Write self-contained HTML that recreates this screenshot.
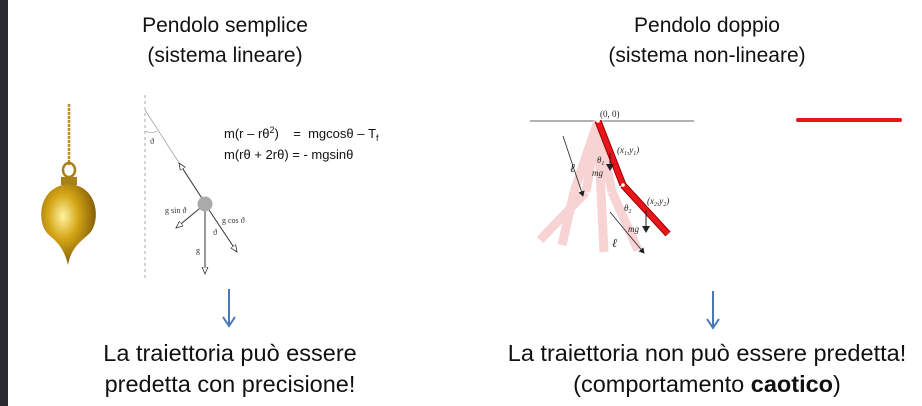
<!DOCTYPE html>
<html><head><meta charset="utf-8"><style>
body{margin:0;width:922px;height:406px;background:#fff;position:relative;overflow:hidden;font-family:"Liberation Sans",sans-serif}
.t{position:absolute;font-size:21px;color:#111;text-align:center;line-height:30px}
.b{font-size:23.5px;line-height:31px}
</style></head><body>
<div style="position:absolute;left:0;top:0;width:8px;height:406px;background:#2a2a30"></div>
<div class="t" style="left:75px;width:300px;top:11px">Pendolo semplice<br>(sistema lineare)</div>
<div class="t" style="left:557px;width:300px;top:11px">Pendolo doppio<br>(sistema non-lineare)</div>
<div class="t b" style="left:30px;width:400px;top:338px">La traiettoria può essere<br>predetta con precisione!</div>
<div class="t b" style="left:457px;width:500px;top:338px">La traiettoria non può essere predetta!<br>(comportamento <b>caotico</b>)</div>
<div style="position:absolute;left:796px;top:118px;width:106px;height:4px;background:#e8151b;border-radius:2px"></div>
<svg width="922" height="406" style="position:absolute;left:0;top:0" font-family="Liberation Serif,serif">
<defs>
<radialGradient id="gold" cx="0.4" cy="0.4" r="0.7"><stop offset="0" stop-color="#fff3a0"/><stop offset="0.4" stop-color="#d4a516"/><stop offset="1" stop-color="#6b4a05"/></radialGradient>
<marker id="oa" markerWidth="8" markerHeight="8" refX="7" refY="4" orient="auto"><path d="M0,1 L7,4 L0,7 Z" fill="#fff" stroke="#333" stroke-width="0.8"/></marker>
<marker id="ba" markerWidth="8" markerHeight="8" refX="6" refY="4" orient="auto"><path d="M0,0 L7,4 L0,8 Z" fill="#222"/></marker>
</defs>
<g>
<line x1="69" y1="104" x2="69" y2="165" stroke="#b8901a" stroke-width="2.5" stroke-dasharray="3,1"/>
<ellipse cx="69" cy="170" rx="6" ry="7" fill="none" stroke="#a8801a" stroke-width="2.5"/>
<rect x="61" y="177" width="16" height="8" fill="#a8801a"/>
<path d="M69,184 C38,186 36,222 48,234 C57,242 64,248 68,265 C71,248 80,242 89,234 C101,222 99,186 69,184 Z" fill="url(#gold)"/>
</g>
<g font-size="8" fill="#333">
<line x1="145" y1="95" x2="145" y2="280" stroke="#aaa" stroke-dasharray="3,3"/>
<line x1="145" y1="110" x2="205" y2="203" stroke="#999" stroke-width="0.7"/>
<line x1="205" y1="203" x2="179" y2="163" stroke="#333" marker-end="url(#oa)"/>
<line x1="205" y1="204" x2="176" y2="228" stroke="#333" marker-end="url(#oa)"/>
<line x1="205" y1="204" x2="237" y2="252" stroke="#333" marker-end="url(#oa)"/>
<line x1="205" y1="204" x2="205" y2="274" stroke="#333" marker-end="url(#oa)"/>
<circle cx="205" cy="204" r="7.5" fill="#aaa"/>
<path d="M145,131 Q152,134 157,131" fill="none" stroke="#888" stroke-width="0.6"/>
<text x="150" y="144">ϑ</text><text x="165" y="213">g sin ϑ</text><text x="222" y="223">g cos ϑ</text>
<text x="213" y="235">ϑ</text><text x="196" y="253">g</text>
</g>
<g font-family="Liberation Sans,sans-serif" font-size="13" fill="#111">
<text x="224" y="138">m(r – rθ<tspan dy="-5" font-size="9">2</tspan><tspan dy="5">)&#160;&#160;&#160; =&#160; mgcosθ – T</tspan><tspan dy="3" font-size="9">f</tspan></text>
<text x="224" y="159">m(rθ + 2rθ) = - mgsinθ</text>
</g>
<g font-size="9" fill="#222">
<line x1="530" y1="121" x2="694" y2="121" stroke="#333" stroke-width="0.8"/>
<g stroke="#f5c5c5" stroke-width="9" opacity="0.75">
<line x1="598" y1="121" x2="586" y2="192"/><line x1="586" y1="192" x2="540" y2="240"/>
<line x1="598" y1="121" x2="601" y2="192"/><line x1="601" y1="192" x2="604" y2="252"/>
<line x1="598" y1="121" x2="612" y2="192"/><line x1="612" y1="192" x2="638" y2="250"/>
<line x1="598" y1="121" x2="574" y2="192"/><line x1="574" y1="192" x2="562" y2="245"/>
</g>
<line x1="598" y1="121" x2="623" y2="185" stroke="#900" stroke-width="7"/>
<line x1="598" y1="121" x2="623" y2="185" stroke="#e8151b" stroke-width="5"/>
<line x1="623" y1="185" x2="668" y2="234" stroke="#900" stroke-width="7"/>
<line x1="623" y1="185" x2="668" y2="234" stroke="#e8151b" stroke-width="5"/>
<circle cx="598" cy="121" r="1.8" fill="#fff"/><circle cx="623" cy="185" r="1.8" fill="#fff"/>
<line x1="563" y1="136" x2="583" y2="196" stroke="#222" stroke-width="0.8" marker-end="url(#ba)"/>
<line x1="610" y1="212" x2="644" y2="253" stroke="#222" stroke-width="0.8" marker-end="url(#ba)"/>
<line x1="610" y1="153" x2="610" y2="170" stroke="#222" marker-end="url(#ba)"/>
<line x1="646" y1="210" x2="646" y2="232" stroke="#222" marker-end="url(#ba)"/>
<text x="600" y="117">(0, 0)</text><text x="617" y="153" font-style="italic">(x<tspan font-size="6" dy="2">1</tspan><tspan dy="-2">,y</tspan><tspan font-size="6" dy="2">1</tspan><tspan dy="-2">)</tspan></text>
<text x="647" y="204" font-style="italic">(x<tspan font-size="6" dy="2">2</tspan><tspan dy="-2">,y</tspan><tspan font-size="6" dy="2">2</tspan><tspan dy="-2">)</tspan></text>
<text x="597" y="163" font-style="italic">θ<tspan font-size="6" dy="2">1</tspan></text>
<text x="592" y="176" font-style="italic">mg</text>
<text x="624" y="211" font-style="italic">θ<tspan font-size="6" dy="2">2</tspan></text>
<text x="628" y="232" font-style="italic">mg</text>
<text x="570" y="172" font-size="12" font-style="italic">ℓ</text><text x="612" y="247" font-size="12" font-style="italic">ℓ</text>
</g>
<g stroke="#4a78b5" stroke-width="2" fill="none">
<line x1="229" y1="289" x2="229" y2="325"/><path d="M223,317 L229,326 L235,317"/>
<line x1="713" y1="291" x2="713" y2="327"/><path d="M707,319 L713,328 L719,319"/>
</g>
</svg>
</body></html>
